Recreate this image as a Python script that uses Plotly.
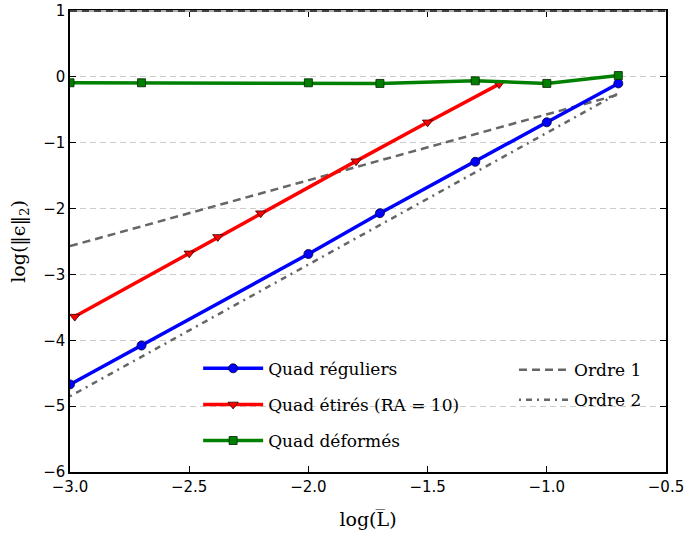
import plotly.graph_objects as go

# Data
x_reg = [-3.0, -2.7, -2.0, -1.7, -1.3, -1.0, -0.7]
y_reg = [-4.67, -4.08, -2.69, -2.07, -1.29, -0.69, -0.10]

x_eti = [-2.98, -2.5, -2.38, -2.2, -1.8, -1.5, -1.2]
y_eti = [-3.64, -2.68, -2.43, -2.07, -1.28, -0.69, -0.11]

x_def = [-3.0, -2.7, -2.0, -1.7, -1.3, -1.0, -0.7]
y_def = [-0.09, -0.09, -0.09, -0.10, -0.06, -0.10, 0.02]

x_ord = [-3.0, -0.7]
y_ord1 = [-2.57, -0.27]
y_ord2 = [-4.85, -0.25]

x_ticks = [-3.0, -2.5, -2.0, -1.5, -1.0, -0.5]
y_ticks = [-6, -5, -4, -3, -2, -1, 0, 1]

names = ["Quad réguliers", "Quad étirés (RA = 10)", "Quad déformés", "Ordre 1", "Ordre 2"]

fig = go.Figure()

fig.add_trace(go.Scatter(
    x=x_ord, y=y_ord1, mode="lines", name=names[3],
    line=dict(color="#666666", width=2.5, dash="8px,5px"),
    legend="legend2", legendgroup="o1"))
fig.add_trace(go.Scatter(
    x=x_ord, y=y_ord2, mode="lines", name=names[4],
    line=dict(color="#666666", width=2.5, dash="2px,5px,6px,5px"),
    legend="legend2", legendgroup="o2"))

fig.add_trace(go.Scatter(
    x=x_reg, y=y_reg, mode="lines+markers", name=names[0],
    line=dict(color="#0000ff", width=3.5),
    marker=dict(symbol="circle", size=9, color="#0000ff", line=dict(color="#000033", width=0.8)),
    legendgroup="a"))
fig.add_trace(go.Scatter(
    x=x_eti, y=y_eti, mode="lines+markers", name=names[1],
    line=dict(color="#ff0000", width=3.5),
    marker=dict(symbol="triangle-down", size=9, color="#ff0000", line=dict(color="#330000", width=0.8)),
    legendgroup="b"))
fig.add_trace(go.Scatter(
    x=x_def, y=y_def, mode="lines+markers", name=names[2],
    line=dict(color="#008000", width=3.5),
    marker=dict(symbol="square", size=8, color="#008000", line=dict(color="#002200", width=0.8)),
    legendgroup="c"))

serif = "DejaVu Serif"

fig.update_layout(
    width=684, height=536,
    margin=dict(l=70, r=18, t=11, b=64),
    plot_bgcolor="white", paper_bgcolor="white",
    font=dict(family="DejaVu Sans", size=15, color="black"),
    legend=dict(
        x=0.215, y=0.263, xanchor="left", yanchor="top",
        bgcolor="rgba(0,0,0,0)", borderwidth=0,
        font=dict(family=serif, size=17, color="black"),
        tracegroupgap=11, itemwidth=60,
    ),
    legend2=dict(
        x=0.745, y=0.26, xanchor="left", yanchor="top",
        bgcolor="rgba(0,0,0,0)", borderwidth=0,
        font=dict(family=serif, size=17, color="black"),
        tracegroupgap=5, itemwidth=50,
    ),
    xaxis=dict(
        range=[-3.0, -0.5], tickvals=x_ticks, tickformat=".1f",
        showgrid=False, zeroline=False, automargin=False, ticklabeloverflow="allow",
        showline=True, linecolor="black", linewidth=1.5, mirror="ticks",
        ticks="inside", ticklen=6, tickcolor="black",
        title=dict(text="log(L̅)", font=dict(family=serif, size=19), standoff=18),
    ),
    yaxis=dict(
        range=[-6, 1], tickvals=y_ticks, automargin=False, ticklabeloverflow="allow",
        showgrid=True, gridcolor="#cccccc", griddash="6px,4px", gridwidth=1,
        zeroline=False,
        showline=True, linecolor="black", linewidth=1.5, mirror="ticks",
        ticks="inside", ticklen=6, tickcolor="black",
        title=dict(text="log(‖ϵ‖<sub>2</sub>)", font=dict(family=serif, size=19), standoff=12),
    ),
)

# top frame edge: the dashed grid line drawn over the frame, as in the reference
fig.add_shape(type="line", xref="paper", yref="paper", x0=0, x1=1, y0=1, y1=1,
              line=dict(color="#b0b0b0", width=2), layer="above")
fig.add_shape(type="line", xref="paper", yref="paper", x0=0, x1=1, y0=1, y1=1,
              line=dict(color="#444444", width=2, dash="7px,5px"), layer="above")

# remove the page's default body margin so the figure sits at the window's corner
fig.write_html("out.html", config={"displayModeBar": False},
               post_script="document.body.style.margin='0';")
